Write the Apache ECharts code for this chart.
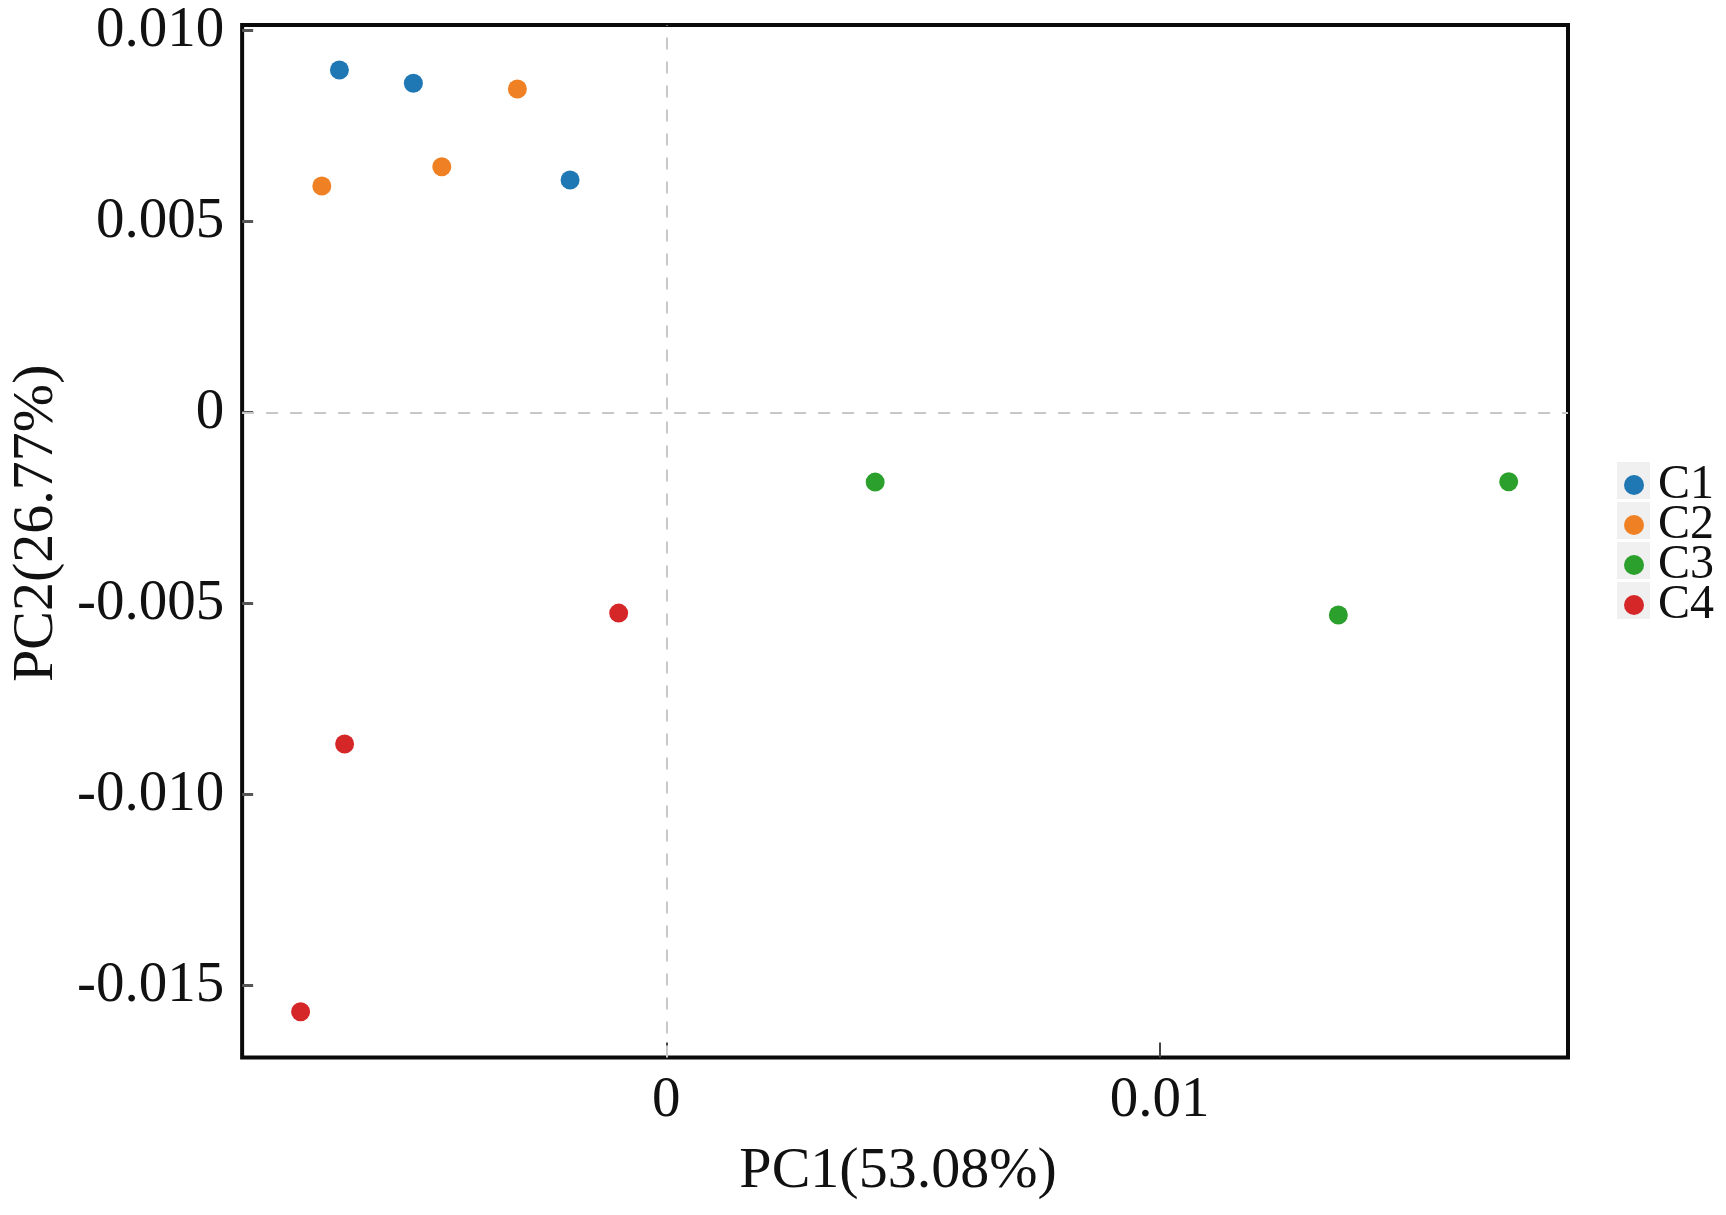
<!DOCTYPE html>
<html>
<head>
<meta charset="utf-8">
<script src="https://cdn.jsdelivr.net/npm/echarts@6/dist/echarts.min.js"></script>
<style>
html,body{margin:0;padding:0;background:#fff;}
#chart{width:1726px;height:1215px;}
</style>
</head>
<body>
<div id="chart"></div>
<script>
// ---- data ----
const groups = ['C1', 'C2', 'C3', 'C4'];
const colors = ['#1f77b4', '#f08024', '#2ca02c', '#d62728'];
const C1 = [[-0.006625, 0.008971], [-0.005126, 0.008623], [-0.00195, 0.006092]];
const C2 = [[-0.006982, 0.005935], [-0.00455, 0.00644], [-0.003018, 0.008474]];
const C3 = [[0.004234, -0.001817], [0.017075, -0.001806], [0.013622, -0.005296]];
const C4 = [[-0.000965, -0.005246], [-0.00652, -0.008675], [-0.007412, -0.01568]];
const xTickValues = [0, 0.01];
const xTickLabels = ['0', '0.01'];
const yTickValues = [0.01, 0.005, 0, -0.005, -0.01, -0.015];
const yTickLabels = ['0.010', '0.005', '0', '-0.005', '-0.010', '-0.015'];
const xName = 'PC1(53.08%)';
const yName = 'PC2(26.77%)';
const seriesData = [C1, C2, C3, C4];

const font = '"Liberation Serif", "Times New Roman", serif';
const chart = echarts.init(document.getElementById('chart'));

const series = groups.map((g, i) => ({
  name: g,
  type: 'scatter',
  data: seriesData[i],
  symbolSize: 19,
  itemStyle: { color: colors[i], opacity: 1 },
  z: 3
}));
series[0].markLine = {
  silent: true,
  symbol: 'none',
  label: { show: false },
  lineStyle: { color: '#c8c8c8', width: 2, type: [12, 12] },
  data: [{ xAxis: 0 }, { yAxis: 0 }],
  z: 1
};

const legendBoxes = groups.map((g, i) => ({
  type: 'rect',
  left: 1617,
  top: 462 + i * 40,
  shape: { width: 33, height: 37 },
  style: { fill: '#f0f0f0' },
  z: 1
}));

chart.setOption({
  animation: false,
  backgroundColor: '#fff',
  grid: {
    left: 242, top: 25, width: 1326, height: 1032.5,
    show: true, borderColor: '#0a0a0a', borderWidth: 4, backgroundColor: 'transparent'
  },
  xAxis: {
    type: 'value',
    min: -0.008597, max: 0.018277,
    name: xName,
    nameLocation: 'middle',
    nameGap: 85,
    nameTextStyle: { fontFamily: font, fontSize: 58, color: '#111', padding: [0, 14, 0, 0] },
    axisLine: { show: false, onZero: false },
    splitLine: { show: false },
    axisTick: { show: true, inside: true, length: 15, customValues: xTickValues, lineStyle: { color: '#444', width: 2 } },
    axisLabel: {
      customValues: xTickValues,
      fontFamily: font, fontSize: 57, color: '#111', margin: 15,
      formatter: v => xTickLabels[xTickValues.findIndex(t => Math.abs(t - v) < 1e-9)] ?? ''
    }
  },
  yAxis: {
    type: 'value',
    min: -0.01688, max: 0.01015,
    name: yName,
    nameLocation: 'middle',
    nameGap: 174,
    nameRotate: 90,
    nameTextStyle: { fontFamily: font, fontSize: 58, color: '#111', padding: [0, 0, 0, 36] },
    axisLine: { show: false, onZero: false },
    splitLine: { show: false },
    axisTick: { show: true, inside: true, length: 11, customValues: yTickValues, lineStyle: { color: '#555', width: 3 } },
    axisLabel: {
      customValues: yTickValues,
      fontFamily: font, fontSize: 57, color: '#111', margin: 18,
      formatter: v => yTickLabels[yTickValues.findIndex(t => Math.abs(t - v) < 1e-9)] ?? ''
    }
  },
  legend: {
    orient: 'vertical',
    left: 1624,
    top: 461,
    padding: 0,
    itemGap: -8,
    itemWidth: 20,
    itemHeight: 20,
    icon: 'circle',
    data: groups,
    textStyle: { fontFamily: font, fontSize: 48, color: '#111', padding: [0, 0, 0, 9] },
    z: 5
  },
  graphic: legendBoxes,
  series: series
});
</script>
</body>
</html>
